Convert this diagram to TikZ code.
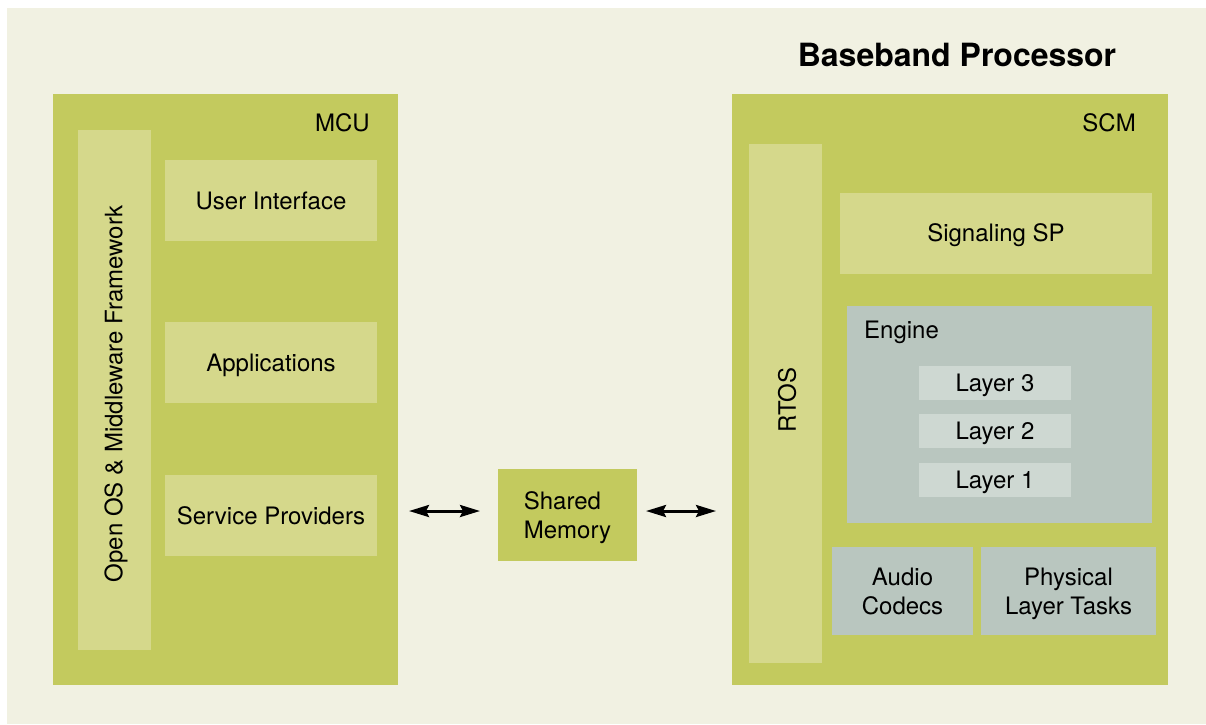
\documentclass[tikz,border=0pt]{standalone}
\usepackage{fontspec}
\setmainfont{TeX Gyre Heros}
\usetikzlibrary{arrows.meta}
\definecolor{cream}{HTML}{F1F1E2}
\definecolor{olive}{HTML}{C3CA5E}
\definecolor{paleolive}{HTML}{D5D88B}
\definecolor{sage}{HTML}{B9C6BF}
\definecolor{palesage}{HTML}{CED8D2}
\tikzset{
  box/.style={rectangle, inner sep=0pt, outer sep=0pt, align=center,
    font=\fontsize{24}{29}\selectfont, text=black, text height=17pt, text depth=0pt},
  twoline/.style={text height=46pt, text depth=0pt},
  outerbox/.style={box, fill=olive},
  barbox/.style={box, fill=paleolive},
  greybox/.style={box, fill=sage},
  layerbox/.style={box, fill=palesage},
  lbl/.style={inner sep=0pt, font=\fontsize{24}{29}\selectfont},
  arr/.style={line width=3pt, {Stealth[length=20pt,width=12pt,inset=3pt]}-{Stealth[length=20pt,width=12pt,inset=3pt]}}
}
\begin{document}
\begin{tikzpicture}[x=1pt,y=-1pt]
\useasboundingbox (0,0) rectangle (1206,724);
\fill[white] (0,0) rectangle (1206,724);
\fill[cream] (7,8) rectangle (1206,724);

\node[lbl, font=\bfseries\fontsize{32}{36}\selectfont] (title) at (957,55) {Baseband Processor};

% MCU side
\node[outerbox, minimum width=345pt, minimum height=591pt] (mcu) at (225.5,389.5) {};
\node[lbl, anchor=east] (mculbl) at (370,123) {MCU};
\node[barbox, minimum width=73pt, minimum height=520pt] (os) at (114.5,390) {};
\node[lbl, rotate=90] (oslbl) at (116,394) {Open OS \& Middleware Framework};
\node[barbox, minimum width=212pt, minimum height=81pt] (ui) at (271,200.5) {User Interface};
\node[barbox, minimum width=212pt, minimum height=81pt] (apps) at (271,362.5) {Applications};
\node[barbox, minimum width=212pt, minimum height=81pt] (sp) at (271,515.5) {Service Providers};

% Shared memory
\node[outerbox, twoline, align=left, minimum width=139pt, minimum height=92pt] (shm) at (567.5,515) {Shared\\Memory};

% SCM side
\node[outerbox, minimum width=436pt, minimum height=591pt] (scm) at (950,389.5) {};
\node[lbl, anchor=east] (scmlbl) at (1136,123) {SCM};
\node[barbox, minimum width=73pt, minimum height=519pt] (rtos) at (785.5,403.5) {};
\node[lbl, rotate=90] (rtoslbl) at (787,400) {RTOS};
\node[barbox, minimum width=312pt, minimum height=81pt] (sig) at (996,233) {Signaling SP};
\node[greybox, minimum width=305pt, minimum height=217pt] (eng) at (999.5,414.5) {};
\node[lbl, anchor=west] (englbl) at (864,332) {Engine};
\node[layerbox, minimum width=152pt, minimum height=34pt] (l3) at (995,383) {Layer 3};
\node[layerbox, minimum width=152pt, minimum height=34pt] (l2) at (995,431) {Layer 2};
\node[layerbox, minimum width=152pt, minimum height=34pt] (l1) at (995,480) {Layer 1};
\node[greybox, twoline, minimum width=141pt, minimum height=88pt] (audio) at (902.5,591) {Audio\\Codecs};
\node[greybox, twoline, minimum width=175pt, minimum height=88pt] (phy) at (1068.5,591) {Physical\\Layer Tasks};

% arrows
\coordinate (ay) at (0,511);
\draw[arr, shorten <=11pt, shorten >=18pt] (mcu.east |- ay) -- (shm.west |- ay);
\draw[arr, shorten <=9pt, shorten >=16pt] (shm.east |- ay) -- (scm.west |- ay);
\end{tikzpicture}
\end{document}
